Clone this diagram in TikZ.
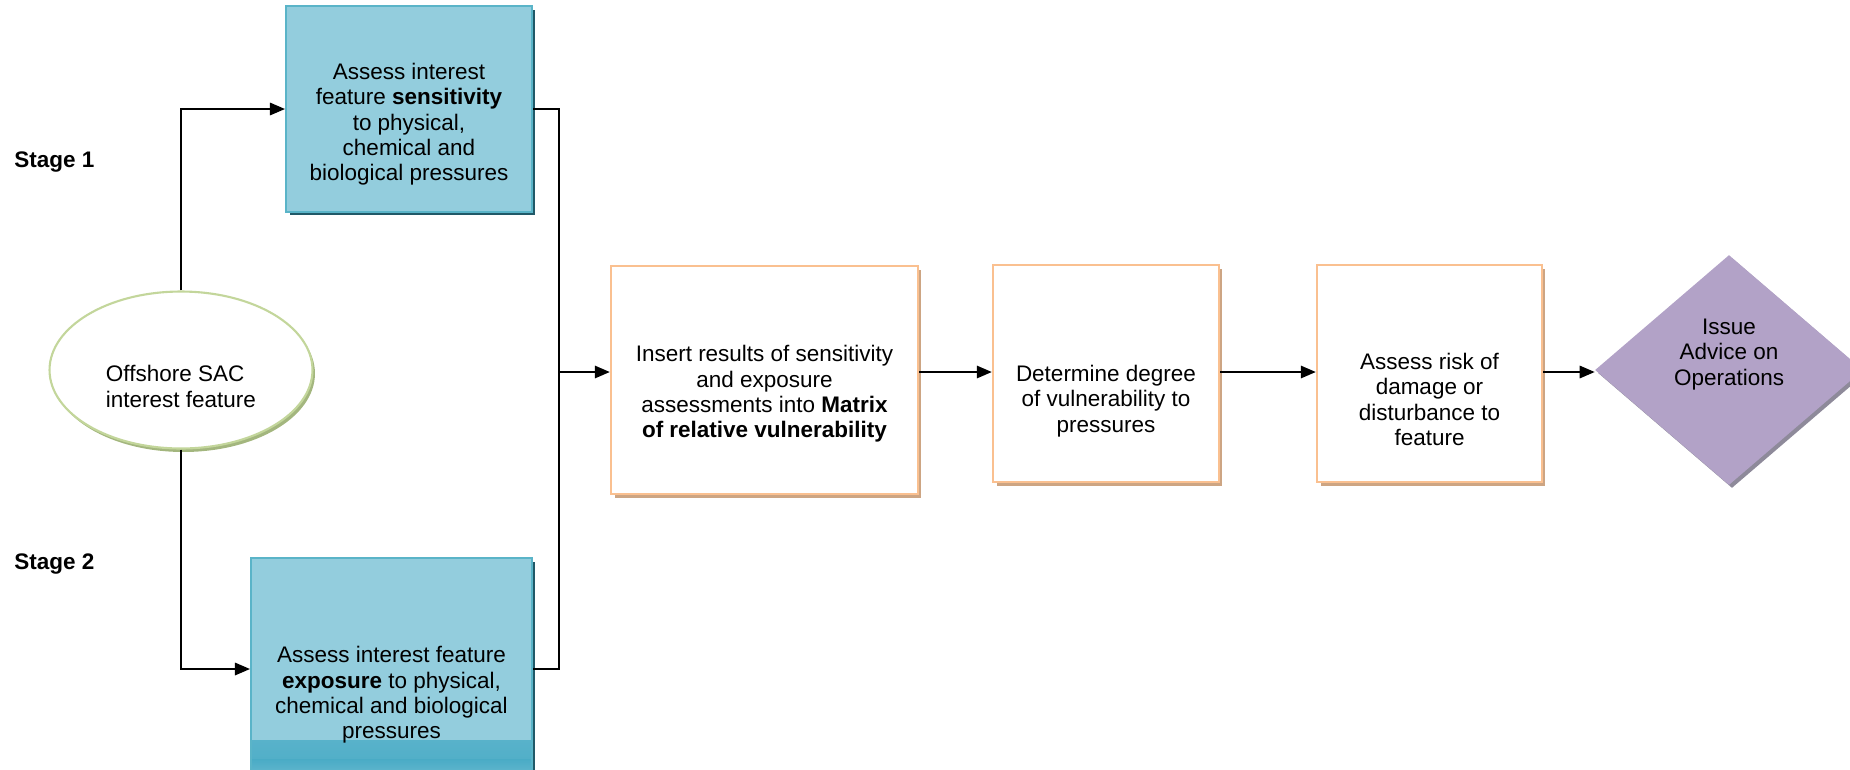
\documentclass[tikz,border=0pt]{standalone}
\usepackage{fontspec}
\setmainfont{Liberation Sans}
\usetikzlibrary{shapes.geometric, arrows.meta, positioning, shadows}

\definecolor{aquafill}{HTML}{93CDDD}
\definecolor{aquaedge}{HTML}{5AB4C8}
\definecolor{aquadark}{HTML}{4BACC6}
\definecolor{aquashade}{HTML}{215968}
\definecolor{peachedge}{HTML}{FAC090}
\definecolor{peachshade}{HTML}{CDA583}
\definecolor{sageedge}{HTML}{C3D69B}
\definecolor{sageshade}{HTML}{A3B67E}
\definecolor{lilacfill}{HTML}{B2A2C7}
\definecolor{lilacshade}{HTML}{8E8A9A}

\newcommand{\txtsize}{\fontsize{12.8}{14.4}\selectfont}

\begin{document}
\begin{tikzpicture}[
    x=0.02cm, y=-0.02cm,
    stagebox/.style = {
        draw=aquaedge, line width=1.2pt, fill=aquafill,
        font=\txtsize, align=center, inner sep=4pt,
        general shadow={fill=aquashade, shadow xshift=0.07cm, shadow yshift=-0.07cm}
    },
    stepbox/.style = {
        draw=peachedge, line width=1.4pt, fill=white,
        font=\txtsize, align=center, inner sep=4pt,
        general shadow={fill=peachshade, shadow xshift=0.07cm, shadow yshift=-0.08cm}
    },
    source/.style = {
        ellipse, draw=sageedge, line width=1.2pt, fill=white,
        font=\txtsize, align=left, inner sep=2pt,
        general shadow={fill=sageshade, shadow xshift=0.05cm, shadow yshift=-0.07cm}
    },
    outcome/.style = {
        diamond, fill=lilacfill, inner sep=0pt,
        font=\txtsize, align=center,
        general shadow={fill=lilacshade, shadow xshift=0.06cm, shadow yshift=-0.06cm}
    },
    footband/.style = {
        path picture={
          \shade[top color=aquafill, bottom color=aquadark]
            ([yshift=0.4cm]path picture bounding box.south west)
            rectangle ([yshift=0.8cm]path picture bounding box.south east);
          \shade[top color=aquadark, bottom color=aquadark!55!aquafill]
            (path picture bounding box.south west)
            rectangle ([yshift=0.4cm]path picture bounding box.south east);
        }
    },
    stagelab/.style = {font=\txtsize\bfseries, anchor=west, inner sep=0pt},
    liftby/.style = {execute at end node={\rule[-#1]{0pt}{0pt}}},
    arr/.style = {-{Triangle[length=0.3cm, width=0.25cm]}, line width=0.9pt},
    wire/.style = {line width=0.9pt},
]

\useasboundingbox (0,0) rectangle (1850,769);

%% ── Stage labels ────────────────────────────────────────────────────────
\node[stagelab] (stage1) at (14,162) {Stage 1};
\node[stagelab] (stage2) at (14,564) {Stage 2};

%% ── Interest feature and the two assessments ───────────────────────────
\node[source, minimum width=5.26cm, minimum height=3.14cm, text height=42.4pt]
  (feat) at (181,370) {Offshore SAC\\interest feature};

\node[stagebox, minimum width=4.92cm, minimum height=4.12cm, text height=84.3pt]
  (sens) at (409,109)
  {Assess interest\\feature \textbf{sensitivity}\\to physical,\\chemical and\\biological pressures};

\node[stagebox, footband, minimum width=5.62cm, minimum height=4.44cm, text height=81.9pt]
  (expo) at (391.5,669)
  {Assess interest feature\\\textbf{exposure} to physical,\\chemical and biological\\pressures};

%% ── Main chain (y = 372) ────────────────────────────────────────────────
\node[stepbox, minimum width=6.14cm, minimum height=4.56cm, text height=68.5pt]
  (matrix) at (764.5,380)
  {Insert results of sensitivity\\and exposure\\assessments into \textbf{Matrix}\\\textbf{of relative vulnerability}};

\node[stepbox, minimum width=4.52cm, minimum height=4.34cm, text height=69.4pt]
  (degree) at (1106,373.5)
  {Determine degree\\of vulnerability to\\pressures};

\node[stepbox, minimum width=4.5cm, minimum height=4.34cm, text height=81.9pt]
  (risk) at (1429.5,373.5)
  {Assess risk of\\damage or\\disturbance to\\feature};

\node[outcome, minimum width=5.36cm, minimum height=4.6cm, liftby=0.72cm]
  (advice) at (1729,370)
  {Issue\\Advice on\\Operations};

%% ── Arrows ─────────────────────────────────────────────────────────────
\coordinate (bus) at (559,372);

\draw[arr] (feat.north) |- (sens.west);
\draw[arr] (feat.south) |- (expo.west);
\draw[wire] (sens.east) -| (bus) |- (expo.east);

\draw[arr] (bus) -- (bus -| matrix.west);
\draw[arr] (bus -| matrix.east) -- (bus -| degree.west);
\draw[arr] (bus -| degree.east) -- (bus -| risk.west);
\draw[arr] (bus -| risk.east) -- (bus -| advice.west);

\end{tikzpicture}
\end{document}
